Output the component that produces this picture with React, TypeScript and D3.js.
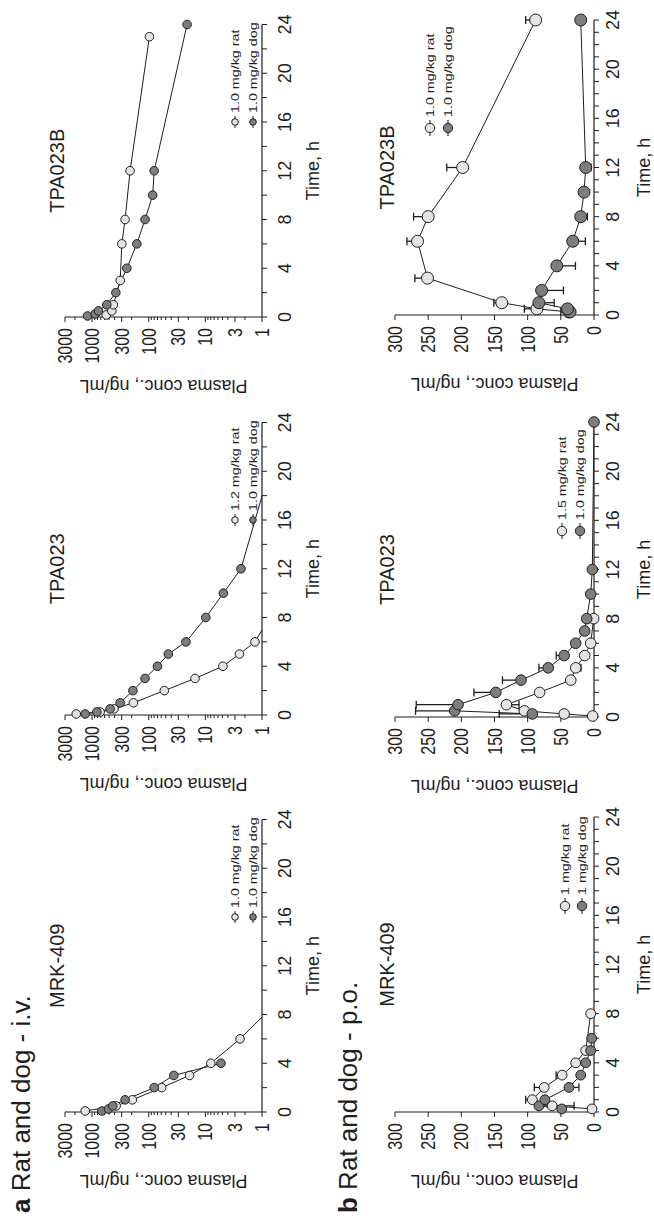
import React from "react";
import * as d3 from "d3";

// ---------- data: [time (h), plasma conc (ng/mL), error bar (+ up / - down)] ----------
const ivMrk409Rat = [[0.083, 1320], [0.5, 376], [1, 194], [2, 59], [3, 19], [4, 8], [6, 2.44], [8, 0.9]];
const ivMrk409Dog = [[0.083, 671], [0.25, 513], [0.5, 430], [1, 261], [2, 80], [3, 36], [4, 5.3]];
const ivTpa023Rat = [[0.083, 1900], [0.25, 720], [0.5, 408], [1, 186], [2, 53], [3, 15.2], [4, 4.9], [5, 2.5], [6, 1.33], [8, 0.74]];
const ivTpa023Dog = [[0.083, 1320], [0.25, 824], [0.5, 480], [1, 319], [2, 190], [3, 116], [4, 70], [5, 45], [6, 22], [8, 9.8], [10, 4.8], [12, 2.35], [24, 0.42]];
const ivTpa023BRat = [[0.167, 560], [0.5, 447], [1, 420], [3, 318], [6, 298], [8, 261], [12, 213], [23, 97]];
const ivTpa023BDog = [[0.083, 1200], [0.25, 881], [0.5, 770], [1, 550], [2, 380], [4, 243], [6, 162], [8, 116], [10, 85], [12, 80], [24, 21]];

const poMrk409Rat = [[0.25, 3], [0.5, 63], [1, 93, 10], [2, 75, 15], [3, 48, 9], [4, 27.6], [5, 12.5], [8, 5]];
const poMrk409Dog = [[0.25, 48.7], [0.5, 83, -53], [1, 74], [2, 37.7, -15], [3, 20], [4, 12.5], [5, 5], [6, 3.5]];
const poTpa023Rat = [[0.083, 2], [0.25, 45], [0.5, 105], [1, 132, -19], [2, 82], [3, 35], [4, 27.6, -8], [5, 14], [6, 5], [8, 0.5]];
const poTpa023Dog = [[0.25, 93, 50], [0.5, 210, 59], [1, 205, 63], [2, 148, 33], [3, 110, 28], [4, 69, 14], [5, 45, 12], [6, 27.6], [7, 14], [8, 11], [10, 5], [12, 2.5], [24, 0]];
const poTpa023BRat = [[0.25, 38, 12], [0.5, 86, 19], [1, 139, 12], [3, 251, 19], [6, 266, 16], [8, 250, 22], [12, 198, 24], [24, 88, 15]];
const poTpa023BDog = [[0.25, 36], [0.5, 40], [1, 83, -23], [2, 79, -33], [4, 56, -28], [6, 32, -19], [8, 20, -10], [10, 15, -5], [12, 12.5, -8], [24, 20]];

const compounds = ["MRK-409", "TPA023", "TPA023B"];
const ivLegend = [["1.0 mg/kg rat", "1.0 mg/kg dog"], ["1.2 mg/kg rat", "1.0 mg/kg dog"], ["1.0 mg/kg rat", "1.0 mg/kg dog"]];
const poLegend = [["1 mg/kg rat", "1 mg/kg dog"], ["1.5 mg/kg rat", "1.0 mg/kg dog"], ["1.0 mg/kg rat", "1.0 mg/kg dog"]];
const timeTickLabels = [0, 4, 8, 12, 16, 20, 24];
const logTickLabels = [1, 3, 10, 30, 100, 300, 1000, 3000];
const linTickLabels = [0, 50, 100, 150, 200, 250, 300];
const rowLetters = ["a", "b"];
const rowTitles = ["Rat and dog - i.v.", "Rat and dog - p.o."];
const timeTitle = "Time, h";
const concTitle = "Plasma conc., ng/mL";

// ---------- layout (unrotated frame: 1225 wide x 654 tall) ----------
const FONT = "'Liberation Sans', Arial, Helvetica, sans-serif";
const INK = "#1e1e1e";
const LIGHT = "#e4e4e4";
const DARK = "#7d7d7d";

const rows = [
  {
    log: true, yT: 65, yB: 262, x0s: [113, 510, 908], w: 292.5, letterY: 30,
    tickDy: 29, titleDy: 57, minorStep: 2, r: [4.3, 4.3, 4.3],
    legOff: [195, 195, 195], legV: [[235, 253], [235, 253], [235, 253]], legR: 3.3, legHalf: 6, legGap: 9,
    data: [[ivMrk409Rat, ivMrk409Dog], [ivTpa023Rat, ivTpa023Dog], [ivTpa023BRat, ivTpa023BDog]],
    legend: ivLegend,
  },
  {
    log: false, yT: 395, yB: 594, x0s: [113, 508, 910], w: 295, letterY: 357,
    tickDy: 25, titleDy: 56, minorStep: 1, r: [4.9, 5.3, 6],
    legOff: [206, 186, 187], legV: [[565, 582], [562, 580], [430, 448]], legR: 4.7, legHalf: 8, legGap: 11,
    data: [[poMrk409Rat, poMrk409Dog], [poTpa023Rat, poTpa023Dog], [poTpa023BRat, poTpa023BDog]],
    legend: poLegend,
  },
];

function Panel({ row, i, ri }: any) {
  const x0 = row.x0s[i];
  const x = d3.scaleLinear().domain([0, 24]).range([x0, x0 + row.w]);
  const y: any = row.log
    ? d3.scaleLog().domain([1, 3000]).range([row.yB, row.yT])
    : d3.scaleLinear().domain([0, 300]).range([row.yB, row.yT]);
  const yv = (c: number) => (row.log ? y(Math.max(c, 0.05)) : y(c));
  const inRange = (c: number) => (row.log ? c >= 1 : c >= 0);
  const line = d3.line<any>().x((d) => x(d[0])).y((d) => yv(d[1]));
  const clipId = `clip-${ri}-${i}`;
  const concTicks: number[] = row.log ? y.ticks() : linTickLabels;
  const labelSet = row.log ? logTickLabels : linTickLabels;
  const timeMinor = d3.range(0, 24.001, row.minorStep);
  const [rat, dog] = row.data[i];
  const r = row.r[i];
  const series = [
    { d: rat, fill: LIGHT },
    { d: dog, fill: DARK },
  ];
  const legX = x0 + row.legOff[i];
  const xc = x0 + row.w / 2;
  const yc = (row.yT + row.yB) / 2;
  return (
    <g>
      <defs>
        <clipPath id={clipId}>
          <rect x={x0} y={row.yT - 30} width={row.w + 10} height={row.yB - row.yT + 30} />
        </clipPath>
      </defs>
      {/* axes */}
      <line x1={x0} x2={x0} y1={row.yT} y2={row.yB} stroke={INK} strokeWidth={1.2} />
      <line x1={x0} x2={x0 + row.w} y1={row.yB} y2={row.yB} stroke={INK} strokeWidth={1.2} />
      {concTicks.map((v) => {
        const major = labelSet.includes(v);
        return (
          <line key={"ct" + v} x1={x0} x2={x0 - (major ? 5 : 3)} y1={y(v)} y2={y(v)} stroke={INK} strokeWidth={1} />
        );
      })}
      {labelSet.map((v: number) => (
        <text key={"cl" + v} transform={`translate(${x0 - 11},${y(v) + 7}) scale(0.8,1)`} textAnchor="end"
          fontSize={20} fontFamily={FONT} fill={INK}>{v}</text>
      ))}
      {timeMinor.map((t) => (
        <line key={"tt" + t} x1={x(t)} x2={x(t)} y1={row.yB} y2={row.yB + 5} stroke={INK} strokeWidth={1} />
      ))}
      {timeTickLabels.map((t) => (
        <text key={"tl" + t} x={x(t)} y={row.yB + row.tickDy} textAnchor="middle" fontSize={18} fontFamily={FONT} fill={INK}>{t}</text>
      ))}
      <text x={xc} y={row.yB + row.titleDy} textAnchor="middle" fontSize={18} fontFamily={FONT} fill={INK}>{timeTitle}</text>
      <text transform={`translate(${x0 - 63},${yc}) rotate(-90)`} textAnchor="middle" fontSize={18} fontFamily={FONT} fill={INK}>{concTitle}</text>
      <text x={xc} y={row.yT - 1} textAnchor="middle" fontSize={20} fontFamily={FONT} fill={INK}>{compounds[i]}</text>
      {/* lines */}
      <g clipPath={`url(#${clipId})`}>
        {series.map((s, k) => (
          <path key={"ln" + k} d={line(s.d) || ""} fill="none" stroke={INK} strokeWidth={1} />
        ))}
      </g>
      {/* error bars */}
      {series.map((s, k) =>
        s.d.filter((p: number[]) => p[2]).map((p: number[], j: number) => {
          const px = x(p[0]);
          const y1 = yv(p[1]);
          const y2 = yv(p[1] + p[2]);
          return (
            <g key={"eb" + k + "-" + j}>
              <line x1={px} x2={px} y1={y1} y2={y2} stroke={INK} strokeWidth={1.3} />
              <line x1={px - 4} x2={px + 4} y1={y2} y2={y2} stroke={INK} strokeWidth={1.3} />
            </g>
          );
        })
      )}
      {/* markers */}
      {series.map((s, k) =>
        s.d.filter((p: number[]) => inRange(p[1])).map((p: number[], j: number) => (
          <circle key={"mk" + k + "-" + j} cx={x(p[0])} cy={yv(p[1])} r={r} fill={s.fill} stroke={INK} strokeWidth={1} />
        ))
      )}
      {/* legend */}
      {series.map((s, k) => {
        const lv = row.legV[i][k];
        return (
          <g key={"lg" + k}>
            <line x1={legX - row.legHalf} x2={legX + row.legHalf} y1={lv} y2={lv} stroke={INK} strokeWidth={1} />
            <circle cx={legX} cy={lv} r={row.legR} fill={s.fill} stroke={INK} strokeWidth={1} />
            <text transform={`translate(${legX + row.legGap},${lv + 4}) scale(1.3,1)`} fontSize={11} fontFamily={FONT} fill={INK}>
              {row.legend[i][k]}
            </text>
          </g>
        );
      })}
    </g>
  );
}

export default function App() {
  return (
    <svg width={654} height={1225} style={{ position: "absolute", left: 0, top: 0, background: "#fff" }}>
      <rect x={0} y={0} width={654} height={1225} fill="#fff" />
      <g transform="translate(0,1225) rotate(-90)">
        {rows.map((row, ri) => (
          <g key={"row" + ri}>
            <text x={12} y={row.letterY} fontSize={26} fontFamily={FONT} fill={INK}>
              <tspan fontWeight="bold">{rowLetters[ri]}</tspan>
              <tspan> {rowTitles[ri]}</tspan>
            </text>
            {row.x0s.map((_: number, i: number) => (
              <Panel key={"p" + i} row={row} i={i} ri={ri} />
            ))}
          </g>
        ))}
      </g>
    </svg>
  );
}
